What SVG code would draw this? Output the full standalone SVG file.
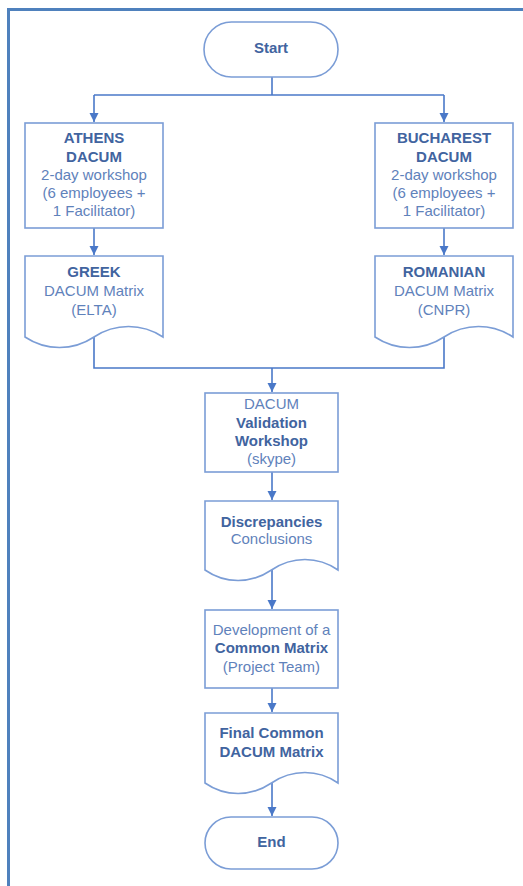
<svg xmlns="http://www.w3.org/2000/svg" width="523" height="886" viewBox="0 0 523 886">
  <defs>
    <marker id="arrow" markerUnits="userSpaceOnUse" markerWidth="10" markerHeight="10" refX="9" refY="5" orient="auto">
      <path d="M0,0.5 L9,5 L0,9.5 Z" fill="#4a78c8"/>
    </marker>
    <style>
      .shape { fill: #ffffff; stroke: #7b9dd6; stroke-width: 1.6; }
      .conn { fill: none; stroke: #4a78c8; stroke-width: 1.6; }
      .t { font-family: "Liberation Sans", Arial, sans-serif; font-size: 15px; text-anchor: middle; fill: #5f82bb; }
      .b { font-weight: bold; fill: #41649f; }
    </style>
  </defs>
  <rect width="523" height="886" fill="#ffffff"/>
  <!-- outer frame -->
  <rect x="8.5" y="9.5" width="540" height="900" fill="none" stroke="#4f81bd" stroke-width="3"/>

  <g id="connectors">
    <path class="conn" d="M272,77 V95"/>
    <path class="conn" d="M94,95 H444"/>
    <path class="conn" d="M94,95 V122" marker-end="url(#arrow)"/>
    <path class="conn" d="M444,95 V122" marker-end="url(#arrow)"/>
    <path class="conn" d="M94,228 V255" marker-end="url(#arrow)"/>
    <path class="conn" d="M444,228 V255" marker-end="url(#arrow)"/>
    <path class="conn" d="M94,337 V368 H444 V337"/>
    <path class="conn" d="M272,368 V392" marker-end="url(#arrow)"/>
    <path class="conn" d="M272,472 V500" marker-end="url(#arrow)"/>
    <path class="conn" d="M272,570 V609" marker-end="url(#arrow)"/>
    <path class="conn" d="M272,688 V712" marker-end="url(#arrow)"/>
    <path class="conn" d="M272,783 V816" marker-end="url(#arrow)"/>
  </g>

  <g id="start">
    <rect class="shape" x="204" y="22" width="134" height="55" rx="27.5"/>
    <text class="t b" x="271" y="53">Start</text>
  </g>

  <g id="athens">
    <rect class="shape" x="25" y="123" width="138" height="105"/>
    <text class="t b" x="94" y="143">ATHENS</text>
    <text class="t b" x="94" y="162">DACUM</text>
    <text class="t" x="94" y="180">2-day workshop</text>
    <text class="t" x="94" y="198">(6 employees +</text>
    <text class="t" x="94" y="216">1 Facilitator)</text>
  </g>

  <g id="bucharest">
    <rect class="shape" x="375" y="123" width="138" height="105"/>
    <text class="t b" x="444" y="143">BUCHAREST</text>
    <text class="t b" x="444" y="162">DACUM</text>
    <text class="t" x="444" y="180">2-day workshop</text>
    <text class="t" x="444" y="198">(6 employees +</text>
    <text class="t" x="444" y="216">1 Facilitator)</text>
  </g>

  <g id="greek">
    <path class="shape" d="M25,256 H163 V337 C142,323 115,323 94,337 C73,351 46,351 25,337 Z"/>
    <text class="t b" x="94" y="277">GREEK</text>
    <text class="t" x="94" y="296">DACUM Matrix</text>
    <text class="t" x="94" y="315">(ELTA)</text>
  </g>

  <g id="romanian">
    <path class="shape" d="M375,256 H513 V337 C492,323 465,323 444,337 C423,351 396,351 375,337 Z"/>
    <text class="t b" x="444" y="277">ROMANIAN</text>
    <text class="t" x="444" y="296">DACUM Matrix</text>
    <text class="t" x="444" y="315">(CNPR)</text>
  </g>

  <g id="validation">
    <rect class="shape" x="205" y="393" width="133" height="79"/>
    <text class="t" x="271.5" y="409">DACUM</text>
    <text class="t b" x="271.5" y="428">Validation</text>
    <text class="t b" x="271.5" y="446">Workshop</text>
    <text class="t" x="271.5" y="464">(skype)</text>
  </g>

  <g id="discrepancies">
    <path class="shape" d="M205,501 H338 V570 C318,556 292,556 271.5,570 C251,584 225,584 205,570 Z"/>
    <text class="t b" x="271.5" y="527">Discrepancies</text>
    <text class="t" x="271.5" y="544">Conclusions</text>
  </g>

  <g id="development">
    <rect class="shape" x="205" y="610" width="133" height="78"/>
    <text class="t" x="271.5" y="635">Development of a</text>
    <text class="t b" x="271.5" y="653">Common Matrix</text>
    <text class="t" x="271.5" y="672">(Project Team)</text>
  </g>

  <g id="final">
    <path class="shape" d="M205,713 H338 V783 C318,769 292,769 271.5,783 C251,797 225,797 205,783 Z"/>
    <text class="t b" x="271.5" y="738">Final Common</text>
    <text class="t b" x="271.5" y="757">DACUM Matrix</text>
  </g>

  <g id="end">
    <rect class="shape" x="205" y="817" width="133" height="52" rx="26"/>
    <text class="t b" x="271.5" y="847">End</text>
  </g>
</svg>
